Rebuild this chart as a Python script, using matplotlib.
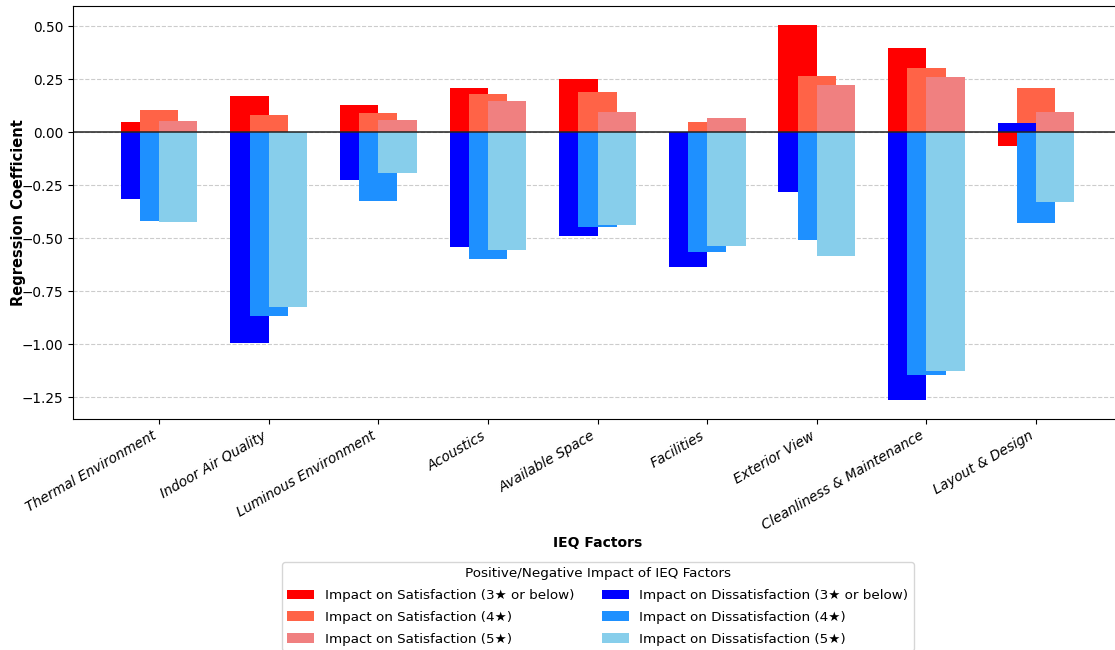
import numpy as np
import matplotlib
matplotlib.use("Agg")
import matplotlib.pyplot as plt

# ====================== DATA ======================
factors = ["Thermal Environment", "Indoor Air Quality", "Luminous Environment",
           "Acoustics", "Available Space", "Facilities", "Exterior View",
           "Cleanliness & Maintenance", "Layout & Design"]

sat_3 = [0.050, 0.170, 0.131, 0.208, 0.250, 0.000, 0.508, 0.399, -0.063]
sat_4 = [0.108, 0.082, 0.091, 0.181, 0.193, 0.049, 0.264, 0.303, 0.211]
sat_5 = [0.055, 0.000, 0.058, 0.146, 0.096, 0.069, 0.226, 0.261, 0.096]

dis_3 = [-0.316, -0.995, -0.222, -0.542, -0.489, -0.635, -0.283, -1.263, 0.046]
dis_4 = [-0.420, -0.868, -0.324, -0.596, -0.447, -0.566, -0.505, -1.142, -0.428]
dis_5 = [-0.423, -0.824, -0.189, -0.553, -0.436, -0.536, -0.582, -1.126, -0.327]

labels_sat = ["Impact on Satisfaction (3\u2605 or below)",
              "Impact on Satisfaction (4\u2605)",
              "Impact on Satisfaction (5\u2605)"]
labels_dis = ["Impact on Dissatisfaction (3\u2605 or below)",
              "Impact on Dissatisfaction (4\u2605)",
              "Impact on Dissatisfaction (5\u2605)"]

# ====================== PLOT ======================
x = np.arange(len(factors))
w = 0.35
offsets = [-w / 2, 0, w / 2]

fig = plt.figure(figsize=(11.15, 6.5), dpi=100)
ax = fig.add_axes([0.0655, 0.3554, 0.9408, 0.6354])

sat_colors = ["red", "tomato", "lightcoral"]
dis_colors = ["blue", "dodgerblue", "skyblue"]

for vals, off, c, lab in zip([sat_3, sat_4, sat_5], offsets, sat_colors, labels_sat):
    ax.bar(x + off, vals, w, color=c, label=lab)
for vals, off, c, lab in zip([dis_3, dis_4, dis_5], offsets, dis_colors, labels_dis):
    ax.bar(x + off, vals, w, color=c, label=lab)

ax.axhline(0, color="#222222", linewidth=1.1)
ax.yaxis.grid(True, linestyle="--", color="#cccccc", linewidth=0.8)
ax.set_axisbelow(True)

ax.set_xticks(x)
ax.set_xticklabels(factors, rotation=30, ha="right", fontstyle="italic", fontsize=9.8)
ax.tick_params(axis="y", labelsize=9.8)
ax.set_xlabel("IEQ Factors", fontweight="bold", fontsize=10, labelpad=2)
ax.set_ylabel("Regression Coefficient", fontweight="bold", fontsize=10.5, labelpad=-3)

fig.legend(*ax.get_legend_handles_labels(), loc="upper center",
           bbox_to_anchor=(0.5363, 0.1354), ncol=2, borderaxespad=0,
           labelspacing=0.65,
           title="Positive/Negative Impact of IEQ Factors",
           fontsize=9.7, title_fontsize=9.7)

plt.savefig("out.png", dpi=100)
plt.close()
